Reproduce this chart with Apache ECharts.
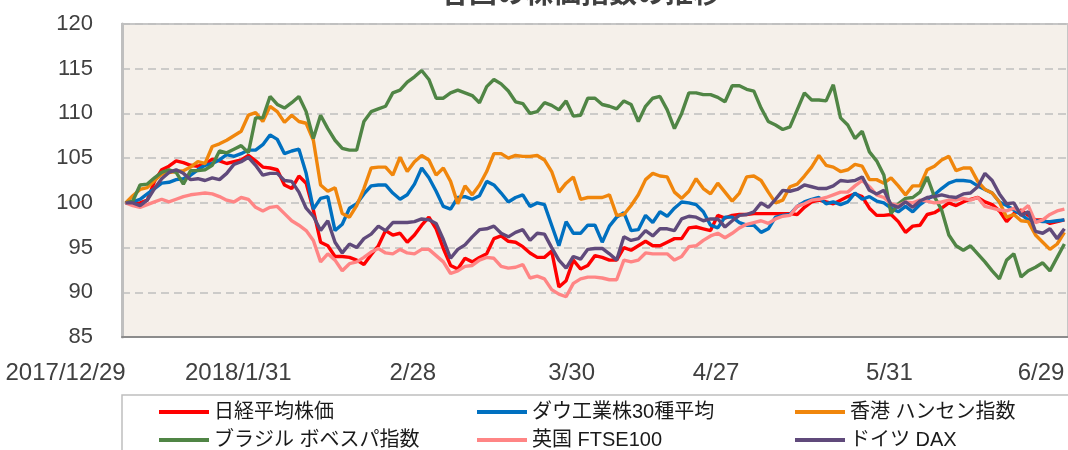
<!DOCTYPE html>
<html><head><meta charset="utf-8">
<script src="https://cdn.jsdelivr.net/npm/echarts@6/dist/echarts.min.js"></script>
<style>html,body{margin:0;padding:0;background:#fff}#c{width:1068px;height:450px}</style>
</head><body><div id="c"></div>
<script>
// date range of the category axis (business days)
const startDate = '2017-12-29';
const endDate = '2018-06-29';
// tick labels
const tickDates = ['2017/12/29','2018/1/31','2018/2/28','2018/3/30','2018/4/27','2018/5/31','2018/6/29'];
const tickLabels = ['2017/12/29','2018/1/31','2/28','3/30','4/27','5/31','6/29'];
const seriesNames = ['日経平均株価','ダウ工業株30種平均','香港 ハンセン指数','ブラジル ボベスパ指数','英国 FTSE100','ドイツ DAX'];

const nikkei = [100,99.9,100,100.3,102.4,103.7,104.1,104.7,104.5,104.2,104.1,104.3,104.9,104.7,104.4,104.6,104.8,105.3,104.7,104.0,103.9,103.7,102.0,101.6,103.0,102.2,99.2,
95.6,95.2,94.0,94.0,93.9,93.6,93.1,94.2,95.2,96.9,96.4,96.6,95.6,96.4,97.5,98.4,97.1,94.9,93.0,92.6,93.8,93.4,93.9,94.3,96.0,96.3,
95.7,95.6,95.1,94.4,93.9,93.9,94.6,90.6,91.3,93.6,92.6,93.0,94.1,93.9,93.6,93.6,95.0,94.7,95.2,95.7,95.2,95.2,95.6,96.0,96.0,97.2,
97.3,97.1,96.9,98.6,98.3,98.6,98.7,98.7,98.8,98.8,98.8,98.8,98.8,98.8,98.7,99.5,100.1,100.3,100.1,99.9,100.3,100.7,101.0,100.7,99.4,98.6,
98.6,98.7,97.9,96.7,97.4,97.5,98.7,98.9,99.4,100.0,99.7,100.1,100.4,100.6,100.1,99.8,99.1,97.9,98.8,99.2,98.6,98.1,98.1,97.7,97.9,98.1];

const dow = [100,100.1,100.4,101.0,101.6,102.2,102.3,102.6,102.7,103.1,103.7,104.2,104.4,104.8,105.4,105.2,105.5,105.9,105.9,106.5,107.6,107.1,105.5,105.8,106.0,103.3,99.3,
100.5,100.7,96.9,97.6,99.4,99.9,101.0,101.9,102.0,102.0,101.1,100.4,100.9,102.1,103.9,102.8,101.3,99.6,99.3,100.6,100.7,100.4,100.8,102.4,102.0,101.1,
100.1,100.6,100.9,99.6,100.0,99.8,97.5,95.2,97.9,96.6,96.6,97.5,97.5,95.6,97.4,98.4,98.9,96.9,97.0,98.6,97.8,99.0,98.5,99.4,100.1,100.0,
99.8,99.0,97.5,97.2,98.4,98.4,97.8,97.5,97.5,96.7,97.1,98.4,98.6,98.7,99.6,100.1,100.4,100.6,99.9,100.1,99.8,100.1,101.1,100.4,100.7,100.2,
100.0,99.4,99.0,99.6,99.0,99.8,100.4,100.9,101.6,102.2,102.5,102.5,102.4,101.9,101.5,101.1,100.1,99.7,99.2,98.7,98.1,98.0,97.9,97.9,98.0,98.1];

const hangseng = [100,100.8,101.5,101.7,102.5,103.2,103.4,103.5,103.6,104.0,104.6,104.4,106.3,106.6,107.0,107.5,108.0,109.8,110.1,109.1,110.8,110.2,109.0,109.8,109.1,108.9,107.0,
102.0,101.3,101.7,98.8,98.4,99.7,101.6,103.9,104.0,104.0,103.1,105.1,103.5,104.6,105.3,104.8,103.1,103.9,102.4,99.9,101.9,100.9,102.0,103.5,105.5,105.5,
105.0,105.3,105.2,105.2,105.3,104.8,103.5,101.2,102.2,102.9,100.4,100.6,100.6,100.6,100.9,98.6,98.7,99.7,100.9,102.6,103.3,103.0,102.9,101.2,100.5,101.3,
102.7,101.6,101.0,102.2,101.2,100.2,101.1,102.9,103.0,102.5,101.2,100.0,100.3,101.8,102.1,103.0,104.0,105.3,104.2,104.0,103.5,103.7,104.3,104.1,102.6,102.6,
102.2,102.8,101.9,100.9,101.9,101.9,103.7,104.1,104.8,105.2,103.6,103.9,103.9,102.4,101.5,101.1,100.1,98.4,98.7,98.0,97.9,96.4,95.6,94.8,95.4,96.7];

const bovespa = [100,100.2,102.0,102.1,102.8,103.4,103.7,103.4,102.1,103.6,103.6,103.7,104.2,105.8,105.6,106.0,106.4,105.6,109.5,109.5,111.9,111.0,110.6,111.2,111.9,110.2,107.2,
109.8,108.3,107.0,106.1,105.9,105.9,109.1,110.2,110.5,110.8,112.3,112.6,113.5,114.1,114.8,113.8,111.7,111.7,112.3,112.6,112.3,112.0,111.2,113.0,113.8,113.3,
112.5,111.3,111.1,110.0,110.2,111.2,110.9,110.4,111.4,109.7,109.8,111.7,111.7,111.0,110.8,110.5,111.4,111.0,109.1,110.8,111.7,111.9,110.4,108.3,110.0,112.3,
112.3,112.1,112.1,111.8,111.3,113.1,113.1,112.7,112.5,110.6,109.1,108.7,108.2,108.5,110.4,112.3,111.5,111.5,111.4,113.2,109.5,108.7,107.2,108.0,105.7,104.7,
103.1,98.8,99.9,100.5,100.6,101.2,102.9,100.7,99.2,96.4,95.2,94.7,95.2,94.3,93.4,92.4,91.5,93.6,94.3,91.7,92.4,92.8,93.3,92.4,93.9,95.4];

const ftse = [100,99.7,99.5,99.8,100.1,100.4,100.1,100.4,100.7,100.9,101.0,101.1,101.0,100.7,100.3,100.1,100.6,100.4,99.5,99.1,99.5,99.6,98.8,98.0,97.5,96.9,95.8,
93.4,94.3,93.6,92.4,93.2,93.4,93.9,94.5,94.9,94.4,94.3,94.8,94.4,94.3,94.8,94.8,94.1,93.4,92.1,92.4,92.9,93.0,93.6,93.9,93.8,92.9,
92.7,92.8,93.1,91.6,91.8,91.5,90.3,89.8,89.5,91.0,91.5,91.7,91.7,91.6,91.4,91.4,93.6,93.4,93.6,94.4,94.3,94.3,94.3,93.6,94.0,95.1,
95.2,95.8,96.3,96.6,96.1,96.6,97.2,97.6,97.8,98.0,97.7,98.2,98.5,98.6,99.6,99.9,100.3,100.4,100.6,100.9,101.2,101.2,101.9,102.5,101.8,100.9,
100.6,99.9,99.7,100.1,100.0,100.3,100.2,100.0,100.1,100.3,100.3,100.5,100.3,100.6,99.6,99.4,99.2,99.1,99.4,99.0,99.7,97.8,98.1,98.7,99.1,99.3];

const dax = [100,100.0,99.7,100.3,101.6,102.7,103.4,103.7,103.3,102.6,102.7,102.5,102.8,102.6,103.3,104.3,104.6,105.1,104.2,103.1,103.3,103.3,102.5,102.4,101.2,99.4,98.5,
96.9,98.0,95.6,94.4,95.4,95.0,96.0,96.5,97.4,96.9,97.8,97.8,97.8,97.9,98.2,98.1,97.7,95.9,93.8,94.8,95.3,96.2,97.0,97.1,97.4,96.6,
96.2,96.7,97.0,95.8,96.6,96.5,95.0,93.6,92.7,94.0,93.7,94.8,94.9,94.9,94.3,93.6,96.2,95.8,96.0,96.9,96.3,97.1,97.1,96.9,98.2,98.5,
98.4,98.0,98.2,98.2,97.3,98.0,98.6,98.7,99.0,100.0,99.5,100.4,101.4,101.3,101.5,102.0,101.8,101.6,101.6,101.9,102.5,102.4,102.5,102.9,101.4,101.0,
101.4,99.8,99.5,100.1,99.5,100.2,100.6,100.7,100.9,100.7,100.6,101.0,101.1,101.8,103.3,102.5,101.0,99.9,100.0,98.6,99.0,96.8,96.6,97.1,96.0,97.1];

const seriesValues = [nikkei, dow, hangseng, bovespa, ftse, dax];
const seriesColors = ['#FF0000','#0070C0','#F0860C','#508545','#FF8585','#604A7B'];

function businessDays(a, b) {
  const out = [];
  const d = new Date(a + 'T00:00:00Z');
  const e = new Date(b + 'T00:00:00Z');
  while (d <= e) {
    const w = d.getUTCDay();
    if (w !== 0 && w !== 6) out.push(d.getUTCFullYear() + '/' + (d.getUTCMonth() + 1) + '/' + d.getUTCDate());
    d.setUTCDate(d.getUTCDate() + 1);
  }
  return out;
}
const categories = businessDays(startDate, endDate);

const FONT = "'Liberation Sans', 'Noto Sans CJK JP', sans-serif";
const chart = echarts.init(document.getElementById('c'), null, {renderer: 'canvas'});
chart.setOption({
  animation: false,
  backgroundColor: '#ffffff',
  title: {
    text: '各国の株価指数の推移', left: 436, top: -27,
    textStyle: {fontSize: 28, fontWeight: 'bold', color: '#404040', fontFamily: "'Noto Sans CJK JP', sans-serif"}
  },
  grid: {
    left: 122, top: 24, width: 951, height: 313, show: true,
    backgroundColor: '#F5F0EA', borderColor: '#C6C6C6', borderWidth: 2
  },
  legend: {
    data: seriesNames, left: 122, top: 395, width: 960,
    padding: [3, 0, 30, 37], itemGap: 0, itemWidth: 50, itemHeight: 4, icon: 'rect',
    borderColor: '#BFBFBF', borderWidth: 1.5,
    textStyle: {fontSize: 20, color: '#1a1a1a', fontFamily: FONT, width: 263, lineHeight: 28}
  },
  xAxis: {
    type: 'category', data: categories, boundaryGap: true,
    axisTick: {show: false},
    axisLine: {lineStyle: {color: '#8C8C8C', width: 2}},
    axisLabel: {
      interval: (i, v) => tickDates.indexOf(v) >= 0,
      formatter: v => tickLabels[tickDates.indexOf(v)],
      align: 'right', margin: 24, fontSize: 24, color: '#404040', fontFamily: FONT,
      padding: [0, 0, 0, 0]
    },
    splitLine: {show: false}
  },
  yAxis: {
    type: 'value', min: 85, max: 120, interval: 5,
    axisLine: {show: true, lineStyle: {color: '#BFBFBF', width: 3}},
    axisTick: {show: false},
    axisLabel: {fontSize: 22, color: '#404040', margin: 29, fontFamily: FONT},
    splitLine: {lineStyle: {color: '#BFBFBF', width: 1.5, type: [8, 5]}}
  },
  series: seriesNames.map((n, k) => ({
    name: n, type: 'line', data: seriesValues[k], showSymbol: false, symbol: 'none',
    color: seriesColors[k], lineStyle: {width: 3.4, color: seriesColors[k]}
  }))
});
</script></body></html>
